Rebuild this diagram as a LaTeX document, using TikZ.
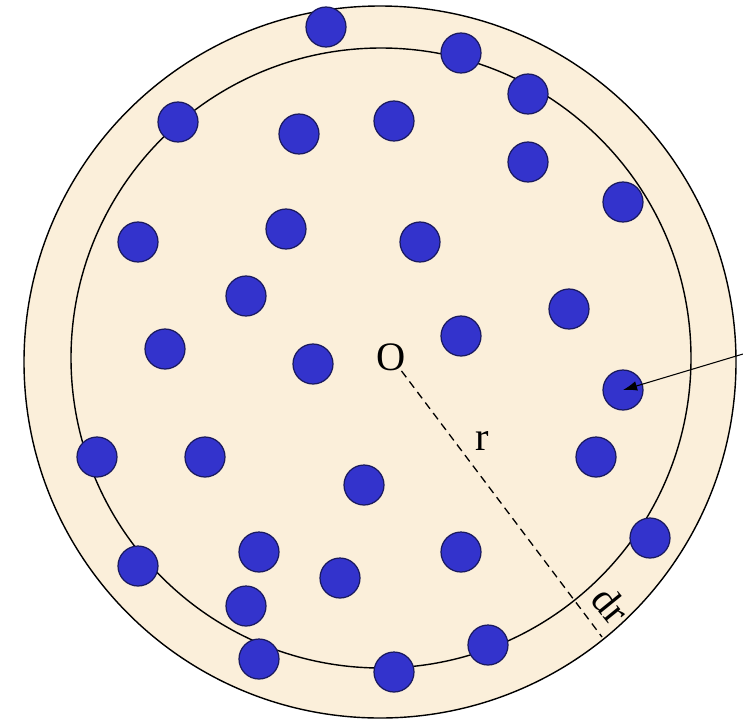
\documentclass[tikz,border=0pt]{standalone}
\usepackage{fontspec}
\setmainfont{Liberation Serif}
\usetikzlibrary{arrows.meta}
\definecolor{disk}{RGB}{251,239,218}
\definecolor{ball}{RGB}{51,51,204}
\definecolor{ballrim}{RGB}{25,25,95}
\tikzset{>=Latex,
  ring/.style={draw=black,line width=.8pt},
  particle/.style={circle,fill=ball,draw=ballrim,line width=.7pt,minimum size=.8cm,inner sep=0pt},
  rline/.style={draw=black,line width=.75pt,dash pattern=on 4.5pt off 3pt},
  pointer/.style={-{Latex[length=8pt,width=5.5pt]},line width=.6pt},
  lbl/.style={font=\fontsize{23}{27}\selectfont,inner sep=0pt}}
\begin{document}
\begin{tikzpicture}[x=.02cm,y=-.02cm]
\useasboundingbox (0,0) rectangle (743,721);
% shell of width dr round the sphere of radius r
\fill[disk] (380,362) circle (356);
\draw[ring] (380,362) circle (356);
\draw[ring] (381,358) circle (310);
\foreach \x/\y [count=\i] in {326/27,461/53,528/94,178/122,299/134,394/121,528/162,
  623/202,138/242,286/229,420/242,246/296,569/309,165/349,313/364,461/336,623/390,
  97/457,205/457,364/485,596/457,259/552,138/566,340/578,246/606,259/659,461/552,
  650/538,488/645,394/672}
  \node[particle] (p\i) at (\x,\y) {};
\node[lbl] (O) at (391,357) {O};
\node[lbl] (r) at (482,441) {r};
\coordinate (rim) at (602,637);
\draw[rline] (O) -- (rim);
\node[lbl,rotate=-51] (dr) at (611,605) {dr};
\coordinate (tail) at (743,354);
\draw[pointer] (tail) -- (p17.center);
\end{tikzpicture}
\end{document}
